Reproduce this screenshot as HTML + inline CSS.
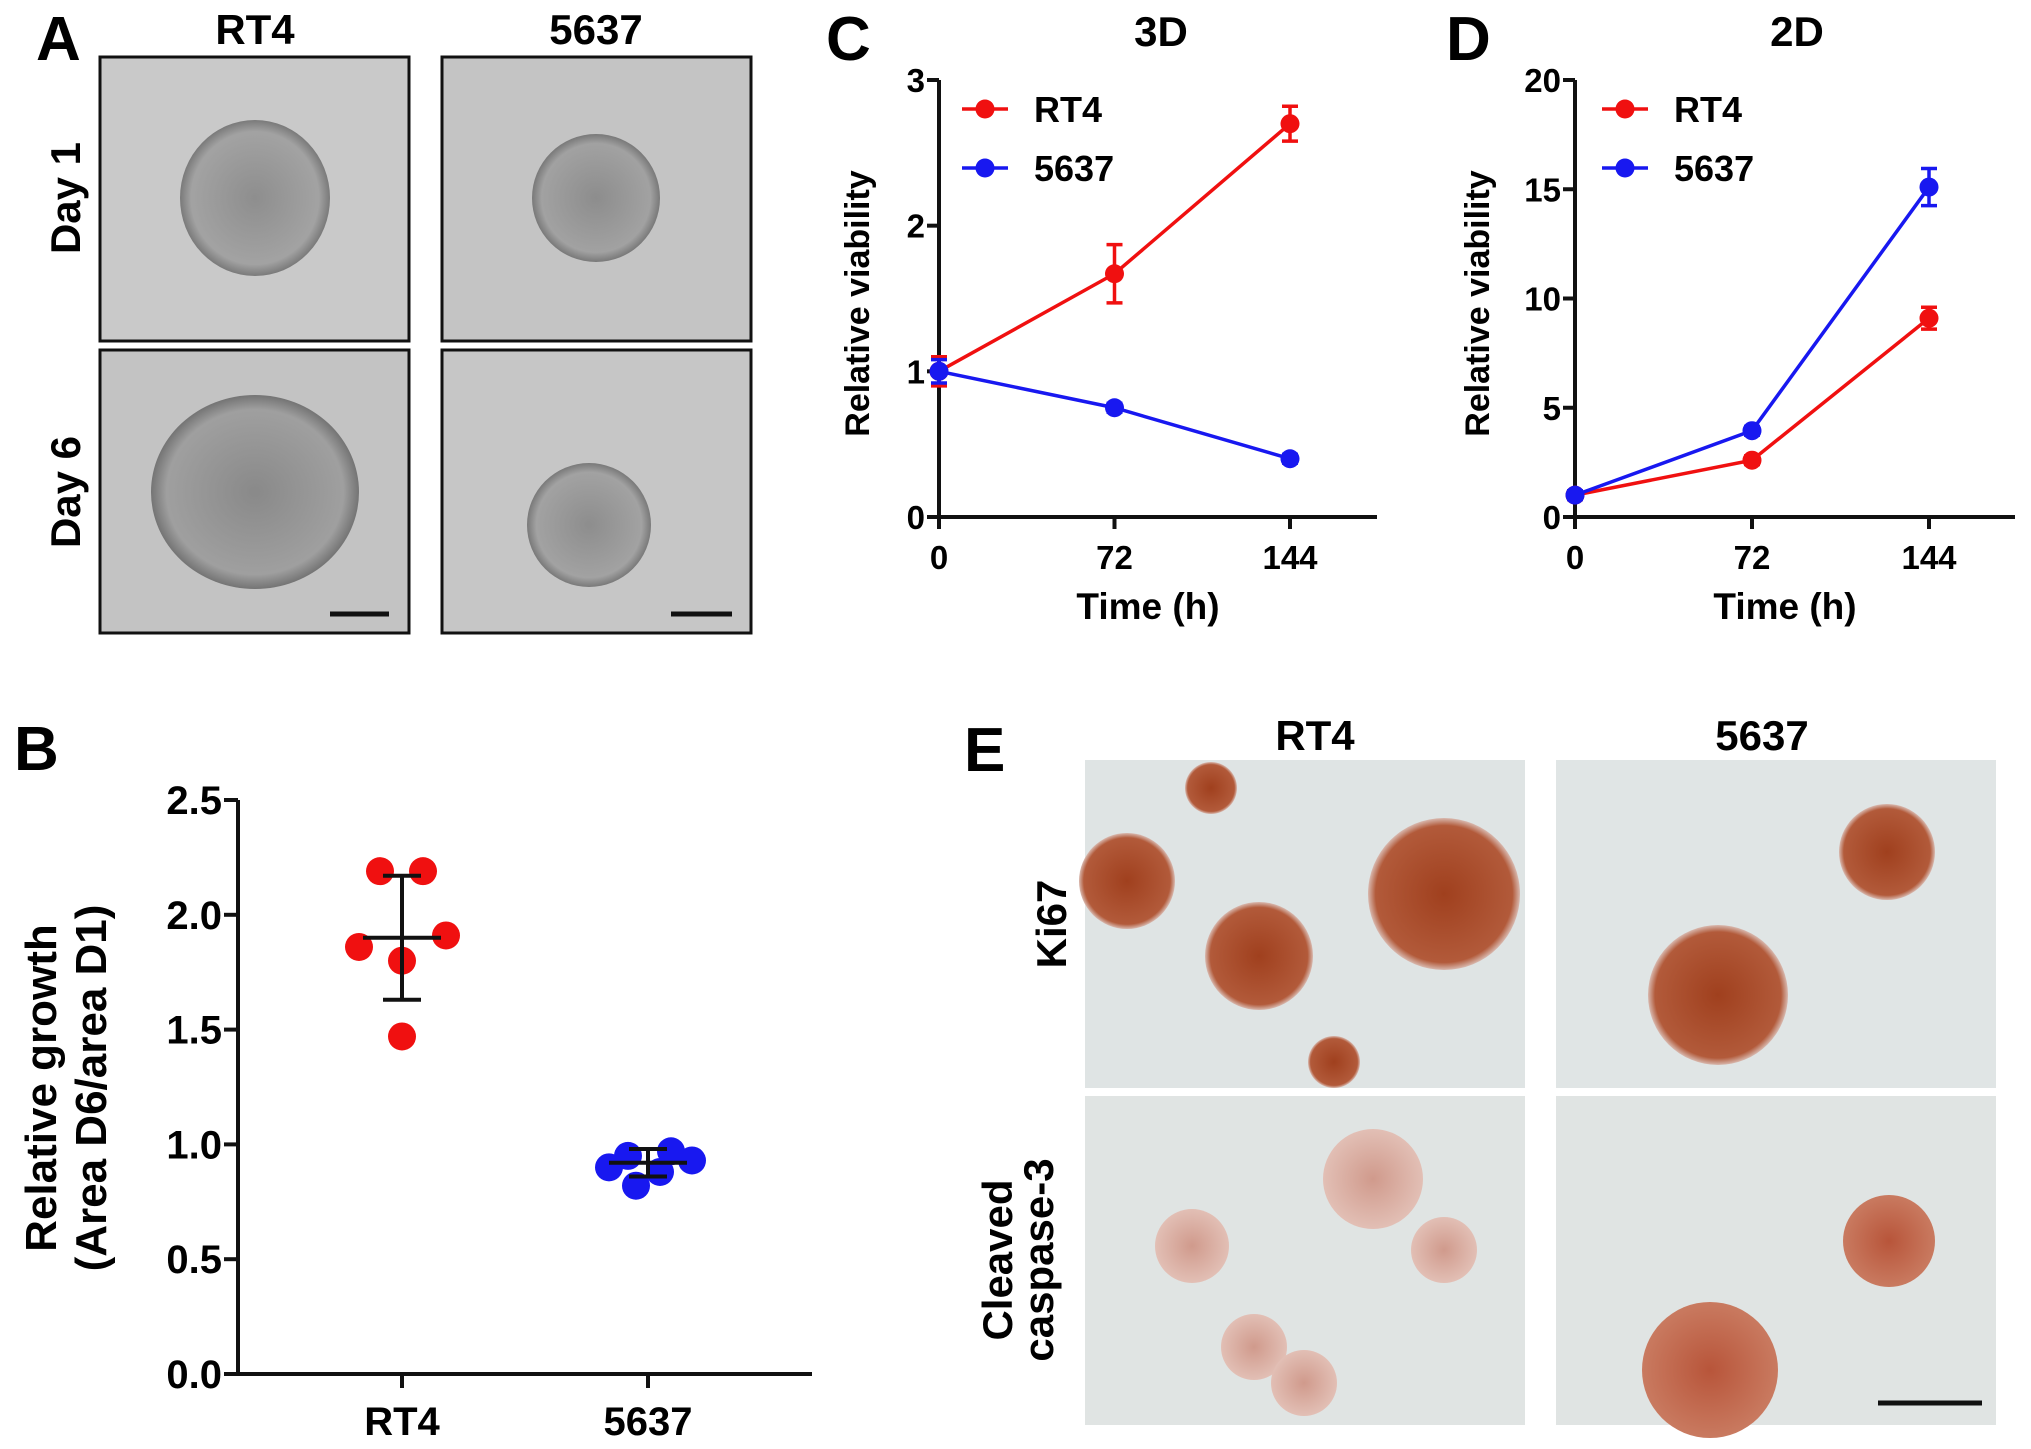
<!DOCTYPE html>
<html><head><meta charset="utf-8"><style>
html,body{margin:0;padding:0;background:#fff;}
svg{display:block;font-family:"Liberation Sans",Arial,sans-serif;font-weight:bold;}
</style></head><body>
<svg id="fig" width="2031" height="1449" viewBox="0 0 2031 1449" xmlns="http://www.w3.org/2000/svg">
<defs>
<radialGradient id="sph" cx="50%" cy="50%" r="50%"><stop offset="0" stop-color="#7f7f7f"/><stop offset="0.85" stop-color="#999"/><stop offset="1" stop-color="#666"/></radialGradient>
<radialGradient id="ki" cx="50%" cy="50%" r="50%"><stop offset="0" stop-color="#a0401e"/><stop offset="0.9" stop-color="#b25a3a"/><stop offset="1" stop-color="#d8b8ae"/></radialGradient>
<radialGradient id="cas" cx="50%" cy="50%" r="50%"><stop offset="0" stop-color="#d09a8c"/><stop offset="1" stop-color="#e2bfb5"/></radialGradient>
<radialGradient id="cas2" cx="50%" cy="50%" r="50%"><stop offset="0" stop-color="#b8553a"/><stop offset="1" stop-color="#c97a60"/></radialGradient>
</defs>
<!-- Panel A -->
<g>
<text x="36" y="60" font-size="62">A</text>
<text x="255" y="44" font-size="42" text-anchor="middle">RT4</text>
<text x="596" y="44" font-size="42" text-anchor="middle">5637</text>
<text transform="translate(80,198) rotate(-90)" font-size="42" text-anchor="middle">Day 1</text>
<text transform="translate(80,492) rotate(-90)" font-size="42" text-anchor="middle">Day 6</text>
<g><rect x="100" y="57" width="309" height="284" fill="#c9c9c9" stroke="#111" stroke-width="3"/><ellipse cx="255" cy="198" rx="75" ry="78" fill="url(#sph)" opacity="0.8"/></g>
<g><rect x="442" y="57" width="309" height="284" fill="#c4c4c4" stroke="#111" stroke-width="3"/><circle cx="596" cy="198" r="64" fill="url(#sph)" opacity="0.8"/></g>
<g><rect x="100" y="350" width="309" height="283" fill="#c3c3c3" stroke="#111" stroke-width="3"/><ellipse cx="255" cy="492" rx="104" ry="97" fill="url(#sph)" opacity="0.85"/><line x1="330" y1="614" x2="389" y2="614" stroke="#111" stroke-width="5"/></g>
<g><rect x="442" y="350" width="309" height="283" fill="#c6c6c6" stroke="#111" stroke-width="3"/><circle cx="589" cy="525" r="62" fill="url(#sph)" opacity="0.8"/><line x1="671" y1="614" x2="732" y2="614" stroke="#111" stroke-width="5"/></g>
</g>
<!-- Panel E -->
<g>
<text x="964" y="771" font-size="62">E</text>
<text x="1315" y="750" font-size="42" text-anchor="middle">RT4</text>
<text x="1762" y="750" font-size="42" text-anchor="middle">5637</text>
<text transform="translate(1066,924) rotate(-90)" font-size="42" text-anchor="middle">Ki67</text>
<text transform="translate(1012,1260) rotate(-90)" font-size="42" text-anchor="middle"><tspan x="0" dy="0">Cleaved</tspan><tspan x="0" dy="41">caspase-3</tspan></text>
<g><rect x="1085" y="760" width="440" height="328" fill="#dfe4e4"/>
<circle cx="1211" cy="788" r="26" fill="url(#ki)"/><circle cx="1127" cy="881" r="48" fill="url(#ki)"/><circle cx="1444" cy="894" r="76" fill="url(#ki)"/><circle cx="1259" cy="956" r="54" fill="url(#ki)"/><circle cx="1334" cy="1062" r="26" fill="url(#ki)"/></g>
<g><rect x="1556" y="760" width="440" height="328" fill="#e0e5e5"/>
<circle cx="1887" cy="852" r="48" fill="url(#ki)"/><circle cx="1718" cy="995" r="70" fill="url(#ki)"/></g>
<g><rect x="1085" y="1096" width="440" height="329" fill="#e0e4e3"/>
<circle cx="1192" cy="1246" r="37" fill="url(#cas)"/><circle cx="1373" cy="1179" r="50" fill="url(#cas)"/><circle cx="1444" cy="1250" r="33" fill="url(#cas)"/><circle cx="1254" cy="1347" r="33" fill="url(#cas)"/><circle cx="1304" cy="1383" r="33" fill="url(#cas)"/></g>
<g><rect x="1556" y="1096" width="440" height="329" fill="#e0e4e3"/>
<circle cx="1889" cy="1241" r="46" fill="url(#cas2)"/><circle cx="1710" cy="1370" r="68" fill="url(#cas2)"/>
<line x1="1878" y1="1403" x2="1982" y2="1403" stroke="#111" stroke-width="5"/></g>
</g>
<g id="charts"></g>
</svg>
<script>
// Panel C (3D)
const cTimes = [0, 72, 144];
const cRT4 = [1.0, 1.67, 2.70];
const cRT4Err = [0.10, 0.20, 0.12];
const c5637 = [1.0, 0.75, 0.40];
const c5637Err = [0.08, 0.03, 0.03];
const cYTicks = [0, 1, 2, 3];
// Panel D (2D)
const dTimes = [0, 72, 144];
const dRT4 = [1.0, 2.6, 9.1];
const dRT4Err = [0.2, 0.2, 0.5];
const d5637 = [1.0, 3.95, 15.1];
const d5637Err = [0.2, 0.2, 0.85];
const dYTicks = [0, 5, 10, 15, 20];
const xTickLabels = ["0", "72", "144"];
// Panel B
const bCategories = ["RT4", "5637"];
const bRT4 = [2.19, 2.19, 1.91, 1.86, 1.80, 1.47];
const b5637 = [0.90, 0.95, 0.97, 0.93, 0.88, 0.82];
const bMeans = [1.90, 0.92];
const bSD = [0.27, 0.06];
const bYTicks = ["0.0", "0.5", "1.0", "1.5", "2.0", "2.5"];

const NS = "http://www.w3.org/2000/svg";
const root = document.getElementById("charts");
function mk(tag, attrs, parent, text) {
  const e = document.createElementNS(NS, tag);
  for (const k in attrs) e.setAttribute(k, attrs[k]);
  if (text !== undefined) e.textContent = text;
  (parent || root).appendChild(e);
  return e;
}

function linePanel(cfg) {
  const g = mk("g", {});
  
  
  const x = t => cfg.x0 + (t - 0) / 144 * (cfg.x144 - cfg.x0);
  const y = v => cfg.y0 - v / cfg.ymax * (cfg.y0 - cfg.ytop);
  const lt = mk("text", {x: cfg.letterX, y: 60, "font-size": 62}, g, cfg.letter);
  
  
  const tt = mk("text", {x: cfg.titleX, y: 46, "font-size": 42, "text-anchor": "middle"}, g, cfg.title);
  
  
  const ax = mk("path", {d: `M${cfg.x0} ${cfg.ytop} V${cfg.y0} H${cfg.xend}`, fill: "none", stroke: "#111", "stroke-width": 4}, g);
  
  
  cfg.yticks.forEach(v => {
    mk("line", {x1: cfg.x0 - 12, x2: cfg.x0, y1: y(v), y2: y(v), stroke: "#111", "stroke-width": 4}, g);
    const t = mk("text", {x: cfg.x0 - 14, y: y(v) + 12, "font-size": 33, "text-anchor": "end"}, g, String(v));
    
    
  });
  cfg.times.forEach((tv, i) => {
    mk("line", {x1: x(tv), x2: x(tv), y1: cfg.y0, y2: cfg.y0 + 12, stroke: "#111", "stroke-width": 4}, g);
    const t = mk("text", {x: x(tv), y: cfg.y0 + 52, "font-size": 33, "text-anchor": "middle"}, g, xTickLabels[i]);
    
    
  });
  const xt = mk("text", {x: (cfg.x0 + cfg.xend) / 2 - 10, y: cfg.y0 + 102, "font-size": 37, "text-anchor": "middle"}, g, "Time (h)");
  
  
  const yt = mk("text", {transform: `translate(${cfg.ylabX},${(cfg.y0 + cfg.ytop) / 2 + 5}) rotate(-90)`, "font-size": 34, "text-anchor": "middle"}, g, "Relative viability");
  
  
  cfg.series.forEach((s, si) => {
    const sg = mk("g", {}, g);
    
    
    const pts = cfg.times.map((tv, i) => x(tv) + "," + y(s.vals[i])).join(" ");
    mk("polyline", {points: pts, fill: "none", stroke: s.color, "stroke-width": 3.5}, sg);
    cfg.times.forEach((tv, i) => {
      const cx = x(tv), v = s.vals[i], e = s.err[i];
      mk("path", {d: `M${cx} ${y(v + e)} V${y(v - e)} M${cx - 8} ${y(v + e)} H${cx + 8} M${cx - 8} ${y(v - e)} H${cx + 8}`, stroke: s.color, "stroke-width": 3.5, fill: "none"}, sg);
      const c = mk("circle", {cx: cx, cy: y(v), r: 9.5, fill: s.color}, sg);
      
      
    });
    const ly = 109 + si * 59;
    const lg = mk("g", {}, g);
    
    
    mk("line", {x1: cfg.legX, x2: cfg.legX + 46, y1: ly, y2: ly, stroke: s.color, "stroke-width": 3.5}, lg);
    mk("circle", {cx: cfg.legX + 23, cy: ly, r: 9.5, fill: s.color}, lg);
    mk("text", {x: cfg.legX + 72, y: ly + 13, "font-size": 36}, lg, s.label);
  });
}

linePanel({name: "panel-c-3d-chart", letter: "C", letterX: 826, title: "3D", titleX: 1161,
  x0: 939, x144: 1290, xend: 1377, y0: 517, ytop: 80, ymax: 3, yticks: cYTicks, times: cTimes,
  ylabX: 869, legX: 962,
  series: [{label: "RT4", color: "#f01010", vals: cRT4, err: cRT4Err}, {label: "5637", color: "#1818f0", vals: c5637, err: c5637Err}]});
linePanel({name: "panel-d-2d-chart", letter: "D", letterX: 1446, title: "2D", titleX: 1797,
  x0: 1575, x144: 1929, xend: 2015, y0: 517, ytop: 80, ymax: 20, yticks: dYTicks, times: dTimes,
  ylabX: 1489, legX: 1602,
  series: [{label: "RT4", color: "#f01010", vals: dRT4, err: dRT4Err}, {label: "5637", color: "#1818f0", vals: d5637, err: d5637Err}]});

// Panel B scatter
(function () {
  const g = mk("g", {});
  
  
  const x0 = 238, xend = 812, y0 = 1374, ytop = 800, ymax = 2.5;
  const y = v => y0 - v / ymax * (y0 - ytop);
  const catX = [402, 648];
  const jitter = [[-22, 21, 44, -43, 0, 0], [-39, -20, 23, 44, 12, -12]];
  const lt = mk("text", {x: 14, y: 770, "font-size": 62}, g, "B");
  
  
  const ax = mk("path", {d: `M${x0} ${ytop} V${y0} H${xend}`, fill: "none", stroke: "#111", "stroke-width": 4}, g);
  
  
  bYTicks.forEach(lab => {
    const v = parseFloat(lab);
    mk("line", {x1: x0 - 14, x2: x0, y1: y(v), y2: y(v), stroke: "#111", "stroke-width": 4}, g);
    const t = mk("text", {x: x0 - 16, y: y(v) + 14, "font-size": 40, "text-anchor": "end"}, g, lab);
    
    
  });
  bCategories.forEach((c, i) => {
    mk("line", {x1: catX[i], x2: catX[i], y1: y0, y2: y0 + 14, stroke: "#111", "stroke-width": 4}, g);
    const t = mk("text", {x: catX[i], y: y0 + 61, "font-size": 40, "text-anchor": "middle"}, g, c);
    
    
  });
  const yt = mk("text", {transform: `translate(56,1088) rotate(-90)`, "font-size": 44, "text-anchor": "middle"}, g);
  
  
  mk("tspan", {x: 0, dy: 0}, yt, "Relative growth");
  mk("tspan", {x: 0, dy: 50}, yt, "(Area D6/area D1)");
  [bRT4, b5637].forEach((arr, si) => {
    const color = si === 0 ? "#f01010" : "#1818f0";
    arr.forEach((v, i) => {
      const c = mk("circle", {cx: catX[si] + jitter[si][i], cy: y(v), r: 14, fill: color}, g);
      
      
    });
    const m = bMeans[si], s = bSD[si], cx = catX[si];
    const eb = mk("path", {d: `M${cx - 39} ${y(m)} H${cx + 39} M${cx} ${y(m + s)} V${y(m - s)} M${cx - 19} ${y(m + s)} H${cx + 19} M${cx - 19} ${y(m - s)} H${cx + 19}`, stroke: "#111", "stroke-width": 4, fill: "none"}, g);
    
    
  });
})();
</script>
</body></html>
